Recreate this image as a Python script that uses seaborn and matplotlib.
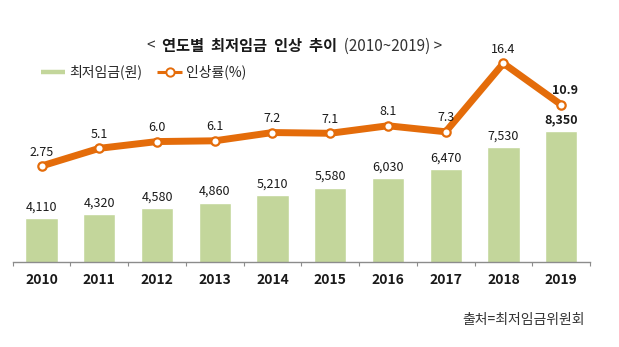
import numpy as np
import pandas as pd
import matplotlib
matplotlib.use("Agg")
import matplotlib.pyplot as plt
from matplotlib.lines import Line2D
import seaborn as sns

# ---- data ----
years = ["2010", "2011", "2012", "2013", "2014", "2015", "2016", "2017", "2018", "2019"]
wages = [4110, 4320, 4580, 4860, 5210, 5580, 6030, 6470, 7530, 8350]
rates = [2.75, 5.1, 6.0, 6.1, 7.2, 7.1, 8.1, 7.3, 16.4, 10.9]
rate_labels = ["2.75", "5.1", "6.0", "6.1", "7.2", "7.1", "8.1", "7.3", "16.4", "10.9"]

title_bold = "연도별  최저임금  인상  추이"
title_rest = "  (2010~2019) >"
legend_labels = ["최저임금(원)", "인상률(%)"]
source = "출처=최저임금위원회"

GREEN = "#C3D69B"
ORANGE = "#E46C0A"

sns.set_theme(style="white")
plt.rcParams["font.family"] = ["Noto Sans CJK KR", "DejaVu Sans"]

df = pd.DataFrame({"year": years, "wage": wages, "rate": rates})

W, H = 619, 347
fig = plt.figure(figsize=(W / 100, H / 100), dpi=100)
left, right, top, bottom = 12.7, 590, 50, 261.7
ax = fig.add_axes([left / W, 1 - bottom / H, (right - left) / W, (bottom - top) / H])

sns.barplot(data=df, x="year", y="wage", ax=ax, color=GREEN, saturation=1, width=0.56)
ax.set_ylim(2000, 2000 + (bottom - top) / 0.02066)

ax2 = ax.twinx()
sns.pointplot(data=df, x="year", y="rate", ax=ax2, color=ORANGE, markers="o",
              linestyles="-", linewidth=5, markersize=6,
              markerfacecolor="white", markeredgecolor=ORANGE, markeredgewidth=1.6)
lb = 2.75 - (bottom - 166) / 7.52
ax2.set_ylim(lb, lb + (bottom - top) / 7.52)

for a in (ax, ax2):
    a.set_xlim(-0.5, 9.5)
    a.set_xlabel("")
    a.set_ylabel("")
    a.set_yticks([])
    for s in ["top", "left", "right"]:
        a.spines[s].set_visible(False)
    a.grid(False)
ax2.spines["bottom"].set_visible(False)
ax.spines["bottom"].set_color("#8c8c8c")
ax.spines["bottom"].set_linewidth(1)

ax.set_xticks(np.arange(len(years)))
ax.set_xticklabels(years, fontsize=10, fontweight="bold", color="#1a1a1a")
ax.set_xticks(np.arange(-0.5, len(years)), minor=True)
ax.tick_params(axis="x", which="major", length=0, pad=7.8)
ax.tick_params(axis="x", which="minor", length=3, width=0.8, color="#8c8c8c", direction="out", bottom=True)
ax2.tick_params(axis="x", which="both", length=0, labelbottom=False)

# bar value labels
for i, w in enumerate(wages):
    bold = i == len(wages) - 1
    ax.annotate(f"{w:,}", xy=(i, w), xytext=(0, 8), textcoords="offset points",
                ha="center", va="center", fontsize=9,
                fontweight="bold" if bold else "normal", color="#1a1a1a",
                annotation_clip=False)

# rate labels
for i, (r, lab) in enumerate(zip(rates, rate_labels)):
    bold = i == len(rates) - 1
    dx = 3 if bold else 0
    ax2.annotate(lab, xy=(i, r), xytext=(dx, 10), textcoords="offset points",
                 ha="center", va="center", fontsize=9,
                 fontweight="bold" if bold else "normal", color="#1a1a1a",
                 annotation_clip=False)

# title
t1 = fig.text(147 / W, 1 - 46 / H, "<  ", fontsize=11, va="center", ha="left", color="#333333")
t2 = ax.annotate(title_bold, xy=(1, 0), xycoords=t1, va="bottom", ha="left",
                 fontsize=11, fontweight="bold", color="#1a1a1a", annotation_clip=False)
t3 = ax.annotate(title_rest, xy=(1, 0), xycoords=t2, va="bottom", ha="left",
                 fontsize=11, color="#333333", annotation_clip=False)

# legend
handles = [
    Line2D([0], [0], color=GREEN, lw=3.2, solid_capstyle="butt"),
    Line2D([0], [0], color=ORANGE, lw=2.2, marker="o", markersize=6, solid_capstyle="butt",
           markerfacecolor="white", markeredgecolor=ORANGE, markeredgewidth=1.4),
]
fig.legend(handles, legend_labels, loc="center left", bbox_to_anchor=(40.7 / W, 1 - 72 / H),
           ncol=2, frameon=False, fontsize=10, handlelength=1.75, handletextpad=0.3,
           columnspacing=1.1, borderpad=0, borderaxespad=0)

fig.text(585 / W, 1 - 320 / H, source, ha="right", va="center", fontsize=10, color="#333333")

fig.savefig("out.png", dpi=100, facecolor="white")
